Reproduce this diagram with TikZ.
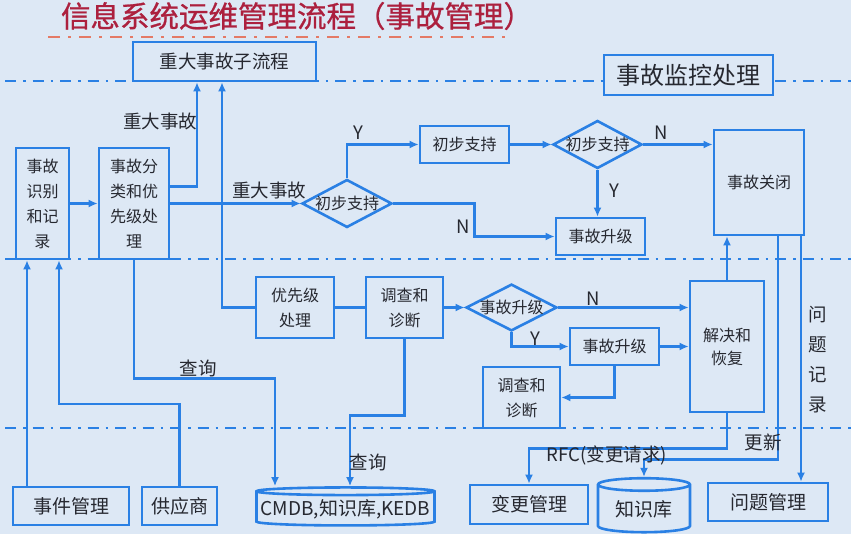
\documentclass[tikz,border=0pt]{standalone}
\usepackage{fontspec}
\setmainfont{Noto Sans CJK SC}
\newfontfamily\titolofont[FakeBold=0.8]{Noto Sans CJK SC}
\usepackage{tikz}
\usetikzlibrary{arrows.meta,calc,positioning,shapes.geometric}
\definecolor{sfondo}{RGB}{221,232,245}
\definecolor{blu}{RGB}{42,128,228}
\definecolor{testo}{RGB}{38,40,48}
\definecolor{rosso}{RGB}{172,32,62}
\definecolor{salmone}{RGB}{228,122,102}

\begin{document}
\begin{tikzpicture}[x=1pt, y=-1pt,
  every node/.style={text=testo, font=\fontsize{16}{25}\selectfont},
  box/.style={draw=blu, line width=2.6pt, fill=sfondo, align=center, inner sep=0pt},
  dec/.style={diamond, draw=blu, line width=2.6pt, fill=sfondo, aspect=1.5, inner xsep=-8pt, inner ysep=0pt},
  db/.style={cylinder, shape border rotate=90, draw=blu, line width=2.6pt, fill=sfondo, inner sep=0pt},
  flow/.style={draw=blu, line width=2.4pt, -{Latex[length=9pt,width=8pt]}},
  link/.style={draw=blu, line width=2.4pt},
  lane/.style={draw=blu, line width=2pt, dash pattern=on 11pt off 7pt on 2.5pt off 7pt},
  lbl/.style={font=\fontsize{18.5}{30}\selectfont, inner sep=0pt},
  big/.style={font=\fontsize{19}{22}\selectfont}]
% sfondo
\fill[sfondo] (0,0) rectangle (851,534);
\useasboundingbox (0,0) rectangle (851,534);
% titolo
\node[font=\titolofont\fontsize{29.5}{34}\selectfont, text=rosso] (title) at (297,16) {信息系统运维管理流程（事故管理）};
\draw[salmone, line width=2.6pt, dash pattern=on 12pt off 8pt on 3pt off 8pt] (48,37) -- (507,37);
% corsie
\foreach \yy in {81,259,428}{
  \draw[lane] (5,\yy) -- (851,\yy);
}
% blocchi in alto
\node[box, minimum width=183pt, minimum height=39pt, font=\fontsize{18.5}{22}\selectfont] (zdzlc) at (224.5,61.5) {重大事故子流程};
\node[box, minimum width=169pt, minimum height=40pt, font=\fontsize{24}{28}\selectfont] (jiankong) at (688.5,75) {事故监控处理};
% colonna sinistra
\node[box, minimum width=53pt, minimum height=111pt] (shibie) at (42.5,203.5) {事故\\识别\\和记\\录};
\node[box, minimum width=70pt, minimum height=111pt] (fenlei) at (134,203.5) {事故分\\类和优\\先级处\\理};
% ramo superiore
\node[dec, minimum width=90pt, minimum height=48pt] (d1) at (347,203.5) {初步支持};
\node[box, minimum width=89pt, minimum height=37pt] (chubu) at (464.5,144.5) {初步支持};
\node[dec, minimum width=89pt, minimum height=48pt] (d2) at (597.5,144.5) {初步支持};
\node[box, minimum width=89pt, minimum height=37pt] (sj1) at (600.5,236.5) {事故升级};
\node[box, minimum width=90pt, minimum height=105pt] (guanbi) at (759,182.5) {事故关闭};
% ramo inferiore
\node[box, minimum width=78pt, minimum height=61pt] (youxian) at (295,307.5) {优先级\\处理};
\node[box, minimum width=77pt, minimum height=61pt] (diaocha1) at (404.5,307.5) {调查和\\诊断};
\node[dec, minimum width=91pt, minimum height=46pt] (d3) at (511.5,307.5) {事故升级};
\node[box, minimum width=89pt, minimum height=37pt] (sj2) at (614.5,346.5) {事故升级};
\node[box, minimum width=77pt, minimum height=61pt] (diaocha2) at (521.5,397.5) {调查和\\诊断};
\node[box, minimum width=74pt, minimum height=131pt] (jiejue) at (727,346.5) {解决和\\[-2pt]恢复};
% sistemi esterni
\node[box, big, minimum width=116pt, minimum height=38pt] (shijian) at (71,506) {事件管理};
\node[box, big, minimum width=75pt, minimum height=38pt] (gongying) at (179.5,506) {供应商};
\node[db, big, minimum width=178pt, minimum height=38pt, aspect=0.045] (cmdb) at (345.5,509) {CMDB,知识库,KEDB};
\node[box, big, minimum width=118pt, minimum height=39pt] (biangeng) at (529,504.5) {变更管理};
\node[db, big, minimum width=92pt, minimum height=54pt, aspect=0.22] (zsk) at (644,509) {知识库};
\node[box, big, minimum width=120pt, minimum height=38pt] (wenti) at (768,502) {问题管理};
% connessioni colonna sinistra
\draw[flow] ([xshift=-44pt]shijian.north) -- ([xshift=-44pt]shijian.north |- shibie.south);
\draw[flow] (gongying.north) -- ++(0,-82) -| ([xshift=16.5pt]shibie.south);
\draw[flow] (shibie.east) -- (fenlei.west);
\draw[flow] ([yshift=17pt]fenlei.east) -| ([xshift=-27.5pt]zdzlc.south);
\draw[flow] (youxian.west) -| ([xshift=-2.5pt]zdzlc.south);
\draw[flow] (fenlei.east) -- (d1.west);
\draw[flow] (fenlei.south) -- ++(0,118) -| ([xshift=-70.5pt]cmdb.north);
% ramo superiore
\draw[flow] (d1.north) |- (chubu.west);
\draw[flow] (chubu.east) -- (d2.west);
\draw[flow] (d2.east) -- (d2.east -| guanbi.west);
\draw[flow] (d2.south) -- (d2.south |- sj1.north);
\draw[flow] (d1.east) -- ++(81,0) |- (sj1.west);
% ramo inferiore
\draw[link] (youxian.east) -- (diaocha1.west);
\draw[flow] (diaocha1.east) -- (d3.west);
\draw[flow] (d3.east) -- (d3.east -| jiejue.west);
\draw[flow] (d3.south) |- (sj2.west);
\draw[flow] (sj2.east) -- (sj2.east -| jiejue.west);
\draw[flow] (sj2.south) |- (diaocha2.east);
\draw[flow] (diaocha1.south) -- ++(0,76) -| ([xshift=4.5pt]cmdb.north);
\draw[flow] (jiejue.north) -- (jiejue.north |- guanbi.south);
% uscite verso il basso
\draw[flow] (jiejue.south) -- ++(0,35) -| (biangeng.north);
\draw[flow] ([xshift=19pt]guanbi.south) -- ++(0,223) -| (zsk.north);
\draw[flow] ([xshift=42pt]guanbi.south) -- ([xshift=42pt]guanbi.south |- wenti.north);
% etichette
\node[lbl] (lzd1) at (160,122) {重大事故};
\node[lbl] (lzd2) at (269,191) {重大事故};
\node[lbl] (ly1) at (358,133) {Y};
\node[lbl] (ln1) at (661,133) {N};
\node[lbl] (ly2) at (614,191) {Y};
\node[lbl] (ln2) at (463,227) {N};
\node[lbl] (ln3) at (593,299) {N};
\node[lbl] (ly3) at (535,339) {Y};
\node[lbl] (lcx1) at (198,368) {查询};
\node[lbl] (lcx2) at (368,462) {查询};
\node[lbl] (lrfc) at (607,455) {RFC(变更请求)};
\node[lbl] (lgx) at (763,442) {更新};
\node[lbl, align=center] (lwt) at (818,360) {问\\题\\记\\录};
\end{tikzpicture}
\end{document}
